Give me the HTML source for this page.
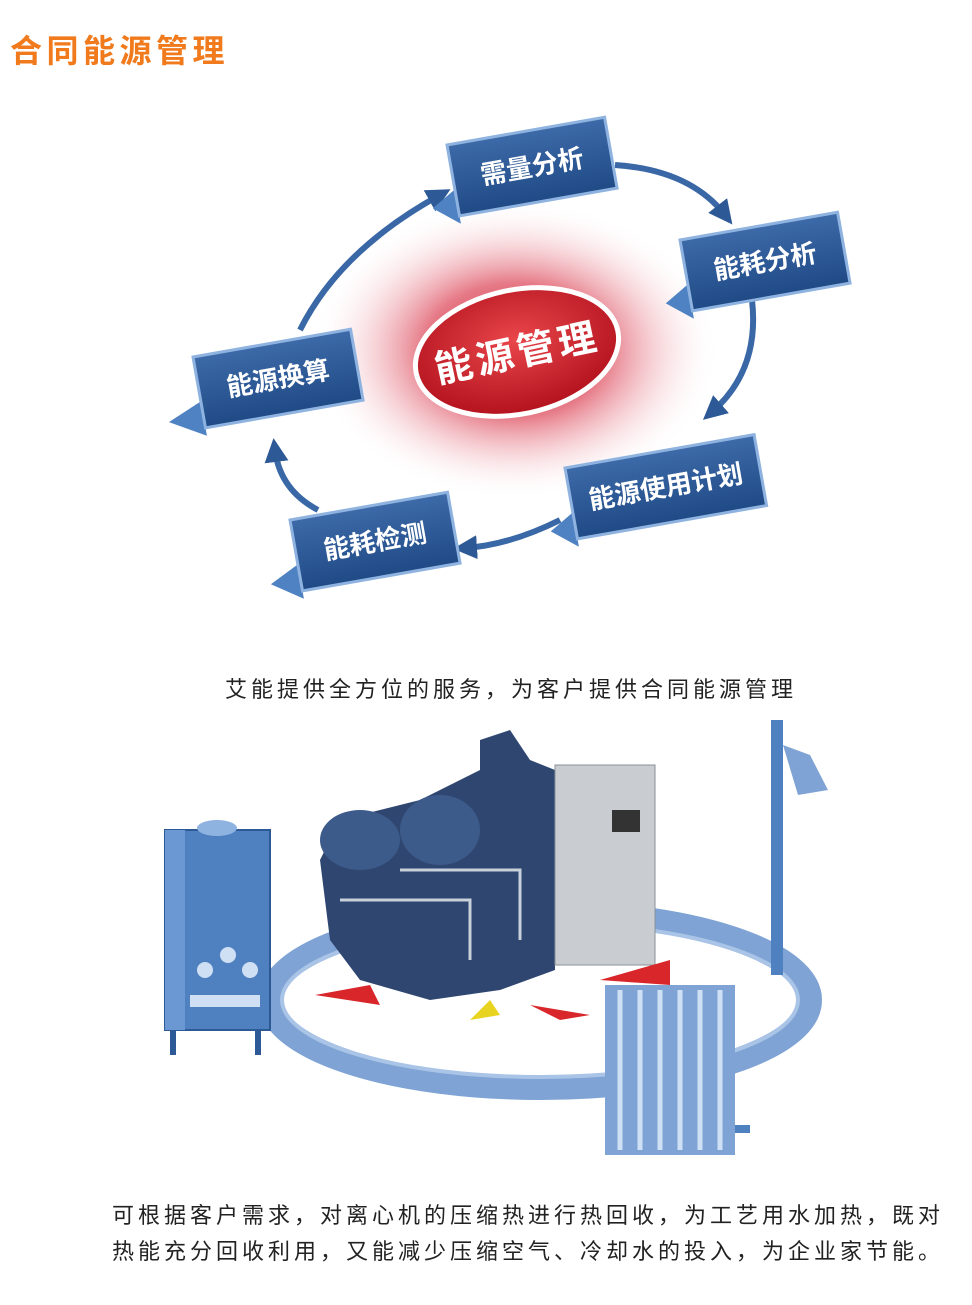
<!DOCTYPE html>
<html><head><meta charset="utf-8"><style>
body{margin:0;width:972px;height:1305px;background:#fff;position:relative;overflow:hidden;font-family:"Liberation Sans","Noto Sans CJK SC",sans-serif}
.t{position:absolute;white-space:nowrap}
</style></head><body>
<div class="t" style="left:10px;top:26px;font-size:32px;font-weight:bold;color:#f07a1c;letter-spacing:4.5px">合同能源管理</div>

<svg width="972" height="1305" style="position:absolute;left:0;top:0">
<defs>
<radialGradient id="g" cx="50%" cy="50%" r="50%">
<stop offset="0" stop-color="#c8102e"/><stop offset="0.45" stop-color="#e05a6a" stop-opacity="0.8"/><stop offset="1" stop-color="#fff" stop-opacity="0"/></radialGradient>
<linearGradient id="b" x1="0" y1="0" x2="0" y2="1"><stop offset="0" stop-color="#3d6aa8"/><stop offset="1" stop-color="#1f4a86"/></linearGradient>
<radialGradient id="c" cx="50%" cy="40%" r="60%"><stop offset="0" stop-color="#e8464a"/><stop offset="1" stop-color="#b3121e"/></radialGradient>
<marker id="ar" markerWidth="4" markerHeight="4" refX="2" refY="2" orient="auto"><path d="M0,0L4,2L0,4z" fill="#2d5a96"/></marker>
</defs>
<ellipse cx="515" cy="350" rx="205" ry="150" fill="url(#g)"/>
<g fill="none" stroke="#3a68a6" stroke-width="6" marker-end="url(#ar)">
<path d="M615,165 Q690,170 725,215"/>
<path d="M752,300 Q760,370 712,412"/>
<path d="M560,520 Q510,545 465,548"/>
<path d="M318,510 Q280,490 275,450"/>
<path d="M300,330 Q340,250 440,195"/>
</g>
<g transform="rotate(-12 517 352)">
<ellipse cx="517" cy="352" rx="103" ry="62" fill="url(#c)" stroke="#fff" stroke-width="5"/>
<text x="517" y="366" font-size="38" font-weight="bold" fill="#fff" text-anchor="middle" font-family="Liberation Sans,Noto Sans CJK SC,sans-serif" letter-spacing="4">能源管理</text>
</g>
<g font-family="Liberation Sans,Noto Sans CJK SC,sans-serif" font-size="26" font-weight="bold" fill="#fff">
<g transform="translate(447,145) rotate(-10)"><path d="M-25,60 L0,45 L0,80z" fill="#4f82c2"/><rect x="0" y="0" width="160" height="72" fill="url(#b)" stroke="#8fb3e0" stroke-width="3"/><text x="80" y="45" text-anchor="middle">需量分析</text></g>
<g transform="translate(680,240) rotate(-10)"><path d="M-25,60 L0,45 L0,80z" fill="#4f82c2"/><rect x="0" y="0" width="160" height="72" fill="url(#b)" stroke="#8fb3e0" stroke-width="3"/><text x="80" y="45" text-anchor="middle">能耗分析</text></g>
<g transform="translate(565,468) rotate(-10)"><path d="M-25,60 L0,45 L0,80z" fill="#4f82c2"/><rect x="0" y="0" width="192" height="72" fill="url(#b)" stroke="#8fb3e0" stroke-width="3"/><text x="96" y="45" text-anchor="middle">能源使用计划</text></g>
<g transform="translate(290,520) rotate(-10)"><path d="M-30,60 L0,45 L0,80z" fill="#4f82c2"/><rect x="0" y="0" width="160" height="72" fill="url(#b)" stroke="#8fb3e0" stroke-width="3"/><text x="80" y="45" text-anchor="middle">能耗检测</text></g>
<g transform="translate(193,357) rotate(-10)"><path d="M-35,60 L0,45 L0,80z" fill="#4f82c2"/><rect x="0" y="0" width="160" height="72" fill="url(#b)" stroke="#8fb3e0" stroke-width="3"/><text x="80" y="45" text-anchor="middle">能源换算</text></g>
</g>

<ellipse cx="540" cy="1000" rx="270" ry="88" fill="none" stroke="#7ea3d4" stroke-width="24"/>
<ellipse cx="540" cy="1000" rx="258" ry="77" fill="none" stroke="#a9c4e6" stroke-width="4"/>
<rect x="165" y="830" width="105" height="200" fill="#4f80c0" stroke="#2d5a96" stroke-width="2"/>
<rect x="165" y="830" width="20" height="200" fill="#6b98d2"/>
<ellipse cx="217" cy="828" rx="20" ry="8" fill="#8fb3e0"/>
<circle cx="205" cy="970" r="8" fill="#cfe0f5"/><circle cx="228" cy="955" r="8" fill="#cfe0f5"/><circle cx="250" cy="970" r="8" fill="#cfe0f5"/>
<rect x="190" y="995" width="70" height="12" fill="#cfe0f5"/>
<rect x="170" y="1030" width="6" height="25" fill="#2d5a96"/><rect x="255" y="1030" width="6" height="25" fill="#2d5a96"/>
<rect x="771" y="720" width="12" height="255" fill="#4f80c0"/>
<path d="M783,745 L810,755 L828,790 L798,795z" fill="#7ea3d4"/>
<polygon points="320,860 340,820 420,800 480,770 480,740 510,730 530,760 555,770 555,970 500,990 430,1000 360,980 330,940" fill="#2e4670"/>
<ellipse cx="360" cy="840" rx="40" ry="30" fill="#3c5a8a"/>
<ellipse cx="440" cy="830" rx="40" ry="35" fill="#3c5a8a"/>
<g stroke="#c8d0da" stroke-width="3" fill="none"><path d="M340,900 L470,900 L470,960"/><path d="M400,870 L520,870 L520,940"/></g>
<rect x="555" y="765" width="100" height="200" fill="#c9cdd2" stroke="#8a9098"/>
<rect x="612" y="810" width="28" height="22" fill="#333"/>
<polygon points="315,995 370,985 380,1005" fill="#d8262a"/>
<polygon points="600,980 670,985 670,960" fill="#d8262a"/>
<polygon points="470,1020 490,1000 500,1015" fill="#e8d420"/>
<polygon points="530,1005 590,1015 560,1020" fill="#d8262a"/>
<rect x="605" y="985" width="130" height="170" fill="#7ea3d4"/>
<g stroke="#cfe0f5" stroke-width="5"><line x1="620" y1="990" x2="620" y2="1150"/><line x1="640" y1="990" x2="640" y2="1150"/><line x1="660" y1="990" x2="660" y2="1150"/><line x1="680" y1="990" x2="680" y2="1150"/><line x1="700" y1="990" x2="700" y2="1150"/><line x1="720" y1="990" x2="720" y2="1150"/></g>
<rect x="735" y="1125" width="15" height="8" fill="#4f80c0"/>
</svg>

<div class="t" style="left:225px;top:672px;font-size:22px;color:#222;letter-spacing:4px">艾能提供全方位的服务，为客户提供合同能源管理</div>
<div class="t" style="left:112px;top:1198px;font-size:22px;color:#222;letter-spacing:4px;line-height:36px">可根据客户需求，对离心机的压缩热进行热回收，为工艺用水加热，既对<br>热能充分回收利用，又能减少压缩空气、冷却水的投入，为企业家节能。</div>
</body></html>
